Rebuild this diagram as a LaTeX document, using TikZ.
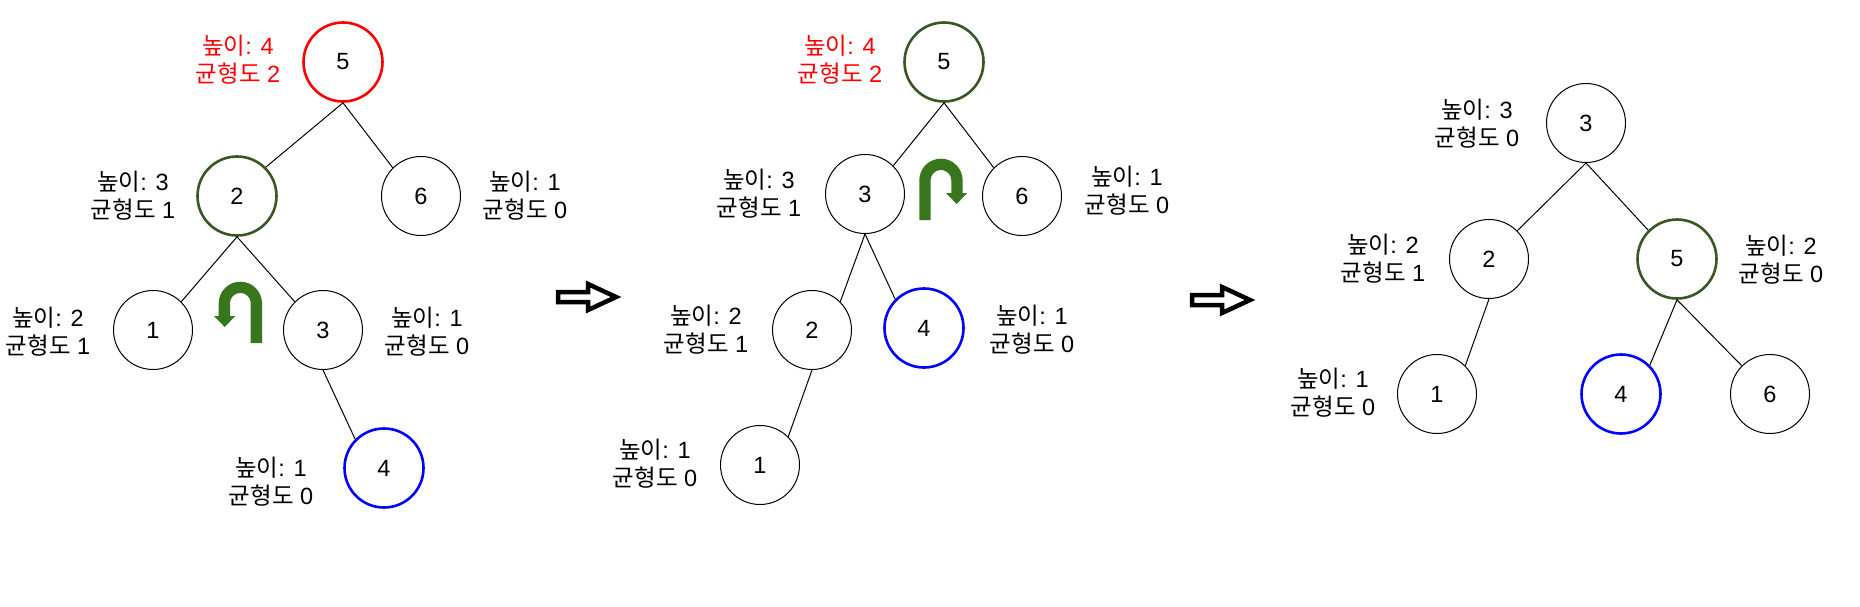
\documentclass[tikz,border=0pt]{standalone}
\usepackage{fontspec}
\setmainfont{Liberation Sans}
\newfontfamily\kofont{Noto Sans CJK KR}
\definecolor{nodered}{HTML}{FF0000}
\definecolor{nodegreen}{HTML}{385723}
\definecolor{nodeblue}{HTML}{0000FF}
\definecolor{turngreen}{HTML}{38761D}
\newcommand{\hbal}[2]{{\kofont 높이}: #1\\{\kofont 균형도} #2}
\tikzset{
    treenode/.style={draw, circle, minimum size=79pt, inner sep=0pt, line width=1pt, fill=white, font=\fontsize{23.5}{24}\selectfont},
    rednode/.style={treenode, draw=nodered, line width=2.6pt},
    greennode/.style={treenode, draw=nodegreen, line width=2.6pt},
    bluenode/.style={treenode, draw=nodeblue, line width=2.6pt},
    hballabel/.style={align=center, inner sep=0pt, font=\fontsize{23.5}{28}\selectfont},
    edge/.style={line width=1pt},
    uturn/.pic={
        \draw[line width=11.3pt, turngreen] (5.65,0) -- (5.65,-39.65) arc[start angle=180, end angle=360, radius=16] -- (37.65,-27);
        \fill[turngreen] (26.7,-27) -- (48,-27) -- (37.3,-16) -- cycle;
    },
    stepsign/.pic={
        \draw[line width=4.5pt, miter limit=10] (0,-5) -- (30,-5) -- (30,-13) -- (58,0) -- (30,13) -- (30,5) -- (0,5) -- cycle;
    }
}
\begin{document}
\begin{tikzpicture}[x=1pt, y=-1pt]
    \useasboundingbox (0,0) rectangle (1860,607);

    % First tree
    \node[rednode] (a5) at (343,62) {5};
    \node[greennode] (a2) at (237,196) {2};
    \node[treenode] (a6) at (421,196) {6};
    \node[treenode] (a1) at (153,330) {1};
    \node[treenode] (a3) at (323,330) {3};
    \node[bluenode] (a4) at (384,468) {4};
    \node[hballabel, text=nodered] (a5h) at (238,60) {\hbal{4}{2}};
    \node[hballabel] (a2h) at (133,196) {\hbal{3}{1}};
    \node[hballabel] (a6h) at (525,196) {\hbal{1}{0}};
    \node[hballabel] (a1h) at (48,332) {\hbal{2}{1}};
    \node[hballabel] (a3h) at (427,332) {\hbal{1}{0}};
    \node[hballabel] (a4h) at (271,482) {\hbal{1}{0}};
    \draw[edge] (a5.south) -- (a2.45);
    \draw[edge] (a5.south) -- (a6.135);
    \draw[edge] (a2.south) -- (a1.45);
    \draw[edge] (a2.south) -- (a3.135);
    \draw[edge] (a3.south) -- (a4.135);
    \pic[xscale=-1] at (262,343) {uturn};

    \pic at (558,297) {stepsign};

    % Second tree
    \node[greennode] (b5) at (944,62) {5};
    \node[treenode] (b3) at (865,194) {3};
    \node[treenode] (b6) at (1022,196) {6};
    \node[treenode] (b2) at (812,330) {2};
    \node[bluenode] (b4) at (924,328) {4};
    \node[treenode] (b1) at (760,465) {1};
    \node[hballabel, text=nodered] (b5h) at (840,60) {\hbal{4}{2}};
    \node[hballabel] (b3h) at (759,194) {\hbal{3}{1}};
    \node[hballabel] (b6h) at (1127,191) {\hbal{1}{0}};
    \node[hballabel] (b2h) at (706,330) {\hbal{2}{1}};
    \node[hballabel] (b4h) at (1032,330) {\hbal{1}{0}};
    \node[hballabel] (b1h) at (655,464) {\hbal{1}{0}};
    \draw[edge] (b5.south) -- (b3.45);
    \draw[edge] (b5.south) -- (b6.135);
    \draw[edge] (b3.south) -- (b2.45);
    \draw[edge] (b3.south) -- (b4.135);
    \draw[edge] (b2.south) -- (b1.45);
    \pic at (919.3,220) {uturn};

    \pic at (1192,300) {stepsign};

    % Third tree
    \node[treenode] (c3) at (1586,123) {3};
    \node[treenode] (c2) at (1489,259) {2};
    \node[greennode] (c5) at (1677,259) {5};
    \node[treenode] (c1) at (1437,394) {1};
    \node[bluenode] (c4) at (1621,394) {4};
    \node[treenode] (c6) at (1770,394) {6};
    \node[hballabel] (c3h) at (1477,124) {\hbal{3}{0}};
    \node[hballabel] (c2h) at (1383,259) {\hbal{2}{1}};
    \node[hballabel] (c5h) at (1781,260) {\hbal{2}{0}};
    \node[hballabel] (c1h) at (1333,393) {\hbal{1}{0}};
    \draw[edge] (c3.south) -- (c2.45);
    \draw[edge] (c3.south) -- (c5.135);
    \draw[edge] (c2.south) -- (c1.45);
    \draw[edge] (c5.south) -- (c4.45);
    \draw[edge] (c5.south) -- (c6.135);
\end{tikzpicture}
\end{document}
